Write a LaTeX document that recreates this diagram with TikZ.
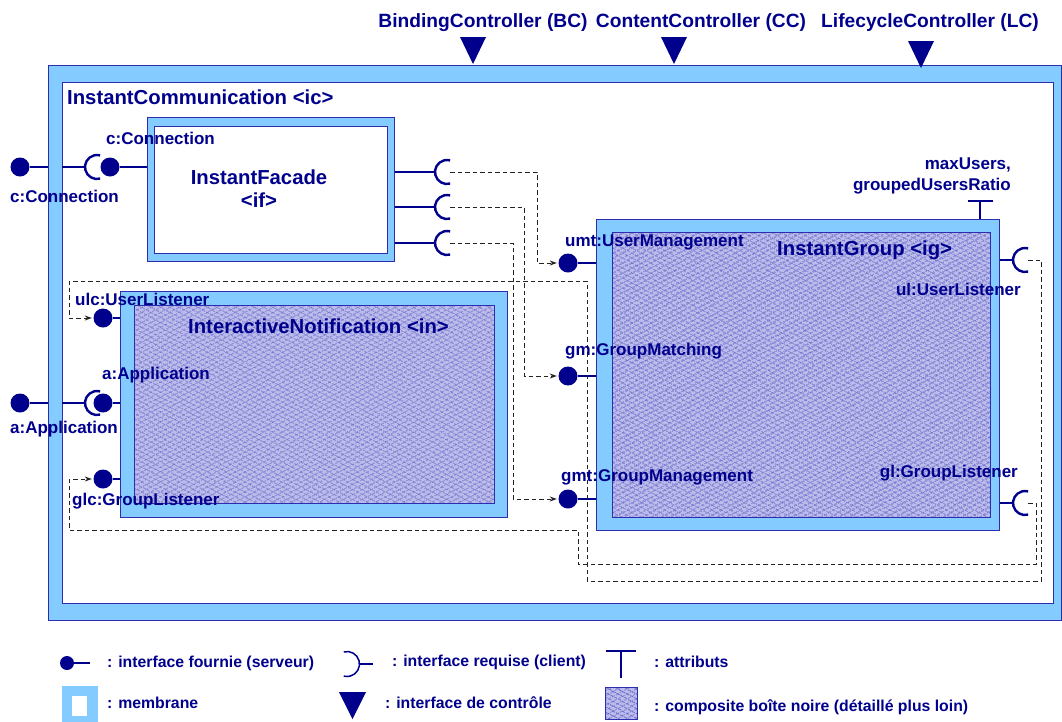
\documentclass[tikz,border=0pt]{standalone}
\usepackage{fontspec}
\setmainfont{Liberation Sans}
\usetikzlibrary{patterns.meta,arrows.meta}
\definecolor{navy}{RGB}{0,0,140}
\definecolor{memb}{RGB}{132,204,255}
\definecolor{membline}{RGB}{45,45,175}
\definecolor{hatchbg}{RGB}{188,188,234}
\definecolor{hatchfg}{RGB}{75,75,195}
\definecolor{wirecol}{RGB}{35,35,35}
\tikzset{
  membrane/.style={rectangle, inner sep=0pt, anchor=north west, fill=memb, draw=membline, line width=1.2pt},
  whitebox/.style={rectangle, inner sep=0pt, anchor=north west, fill=white, draw=membline, line width=1.2pt},
  hatched/.style={rectangle, inner sep=0pt, anchor=north west, draw=membline, line width=1.2pt,
    preaction={fill=hatchbg},
    preaction={pattern={Lines[angle=28,distance=4pt,line width=0.95pt]}, pattern color=hatchfg},
    preaction={pattern={Lines[angle=-28,distance=4pt,line width=0.95pt]}, pattern color=hatchfg}},
  prov/.style={circle, fill=navy, inner sep=0pt, minimum size=19pt},
  conn/.style={draw=navy, line width=2.4pt},
  sockline/.style={draw=navy, line width=2.4pt},
  wire/.style={draw=wirecol, line width=0.9pt, dash pattern=on 4.5pt off 3pt},
  arr/.style={-{Stealth[length=7pt,width=5pt]}, shorten >=1.5pt},
  lbl/.style={inner sep=0pt, text=navy, font=\bfseries\fontsize{17}{21}\selectfont},
  ttl/.style={inner sep=0pt, text=navy, font=\bfseries\fontsize{20.3}{23}\selectfont},
  ctl/.style={inner sep=0pt, text=navy, font=\bfseries\fontsize{19.2}{23}\selectfont},
  leg/.style={inner sep=0pt, text=navy, font=\bfseries\fontsize{15.8}{19}\selectfont, anchor=west},
}
\begin{document}
\begin{tikzpicture}[x=1pt,y=-1pt]
\useasboundingbox (0,0) rectangle (1062,721);
% ---------- outer composite
\node[membrane, minimum width=1013pt, minimum height=555pt] (ic) at (48,65) {};
\node[whitebox, minimum width=991pt, minimum height=521pt] (icin) at (62,82) {};
\node[ttl, anchor=west] (ictitle) at (67,97) {InstantCommunication <ic>};

% ---------- controllers
\node[ctl] (bcl) at (483,23) {BindingController (BC)};
\node[ctl] (ccl) at (701,23) {ContentController (CC)};
\node[ctl] (lcl) at (930,23) {LifecycleController (LC)};
\fill[navy] (460,37) -- (486,37) -- (473,64) -- cycle;
\fill[navy] (661,37) -- (687,37) -- (674,64) -- cycle;
\fill[navy] (908,41) -- (934,41) -- (921,68) -- cycle;

% ---------- InstantFacade
\node[membrane, minimum width=247pt, minimum height=144pt] (ifac) at (147,117) {};
\node[whitebox, minimum width=233pt, minimum height=127pt] (ifacin) at (154,126) {};
\node[ttl, align=center] (iftitle) at (259,189) {InstantFacade\\<if>};

% ---------- InteractiveNotification
\node[membrane, minimum width=387pt, minimum height=226pt] (inot) at (120,291) {};
\node[hatched, minimum width=360pt, minimum height=198pt] (inotin) at (134,305) {};
\node[ttl, anchor=west] (intitle) at (188,326) {InteractiveNotification <in>};

% ---------- InstantGroup
\node[membrane, minimum width=403pt, minimum height=311pt] (ig) at (596,219) {};
\node[hatched, minimum width=378pt, minimum height=285pt] (igin) at (612,232) {};
\node[ttl, anchor=west] (igtitle) at (777,250) {InstantGroup <ig>};

% ---------- c:Connection
\node[prov] (cext) at (20,167) {};
\draw[conn] (cext) -- (ic.west |- cext);
\coordinate (csock) at (97,167);
\draw[conn] (icin.west |- csock) -- ([xshift=-12pt]csock);
\draw[sockline] (csock) ++(75:12) arc[start angle=75,end angle=285,radius=12];
\node[prov] (cint) at (110,167) {};
\draw[conn] (cint) -- (ifac.west |- cint);

% ---------- a:Application
\node[prov] (aext) at (20,403) {};
\draw[conn] (aext) -- (ic.west |- aext);
\coordinate (asock) at (97,403);
\draw[conn] (icin.west |- asock) -- ([xshift=-12pt]asock);
\draw[sockline] (asock) ++(75:12) arc[start angle=75,end angle=285,radius=12];
\node[prov] (aint) at (103,403) {};
\draw[conn] (aint) -- (inot.west |- aint);

% ---------- listeners of InteractiveNotification
\node[prov] (ulc) at (103,318) {};
\draw[conn] (ulc) -- (inot.west |- ulc);
\node[prov] (glc) at (103,479) {};
\draw[conn] (glc) -- (inot.west |- glc);

% ---------- facade client sockets
\foreach \n/\y in {1/172,2/207,3/243}{
  \coordinate (fs\n) at (447,\y);
  \draw[conn] (ifac.east |- fs\n) -- ([xshift=-12pt]fs\n);
  \draw[sockline] (fs\n) ++(75:12) arc[start angle=75,end angle=285,radius=12];
}

% ---------- InstantGroup server interfaces
\node[prov] (umt) at (568,263) {};
\draw[conn] (umt) -- (ig.west |- umt);
\node[prov] (gm) at (568,376) {};
\draw[conn] (gm) -- (ig.west |- gm);
\node[prov] (gmt) at (568,499) {};
\draw[conn] (gmt) -- (ig.west |- gmt);

% ---------- InstantGroup client sockets
\coordinate (gs1) at (1025,260);
\coordinate (gs2) at (1025,503);
\foreach \s in {gs1,gs2}{
  \draw[conn] (ig.east |- \s) -- ([xshift=-12pt]\s);
  \draw[sockline] (\s) ++(75:12) arc[start angle=75,end angle=285,radius=12];
}

% ---------- attributes
\coordinate (attr) at (980,201);
\draw[conn] (ig.north -| attr) -- (attr);
\draw[conn] ([xshift=-12.5pt]attr) -- ([xshift=12.5pt]attr);
\node[lbl, align=right, anchor=east] (attrl) at (1011,176) {maxUsers,\\groupedUsersRatio};

% ---------- bindings (dashed)
\draw[wire,arr] ([xshift=3pt]fs1) -- ++(87,0) |- (umt.west);
\draw[wire,arr] ([xshift=3pt]fs2) -- ++(74,0) |- (gm.west);
\draw[wire,arr] ([xshift=3pt]fs3) -- ++(63,0) |- (gmt.west);
\draw[wire,arr] ([xshift=3pt]gs1) -| (1041,581) -| (587,281) -| (69,318) -- (ulc.west);
\draw[wire,arr] ([xshift=3pt]gs2) -| (1036,564) -| (578,530) -| (69,479) -- (glc.west);

% ---------- interface labels
\node[lbl, anchor=west] (lcext) at (10,196) {c:Connection};
\node[lbl, anchor=west] (lcint) at (106,138) {c:Connection};
\node[lbl, anchor=west] (laext) at (10,429) {a:Application};
\node[lbl, anchor=west] (laint) at (102,375) {a:Application};
\node[lbl, anchor=west] (lulc) at (75,299) {ulc:UserListener};
\node[lbl, anchor=west] (lglc) at (72,501) {glc:GroupListener};
\node[lbl, anchor=west] (lumt) at (565,242) {umt:UserManagement};
\node[lbl, anchor=west] (lgm) at (565,351) {gm:GroupMatching};
\node[lbl, anchor=west] (lgmt) at (561,477) {gmt:GroupManagement};
\node[lbl, anchor=east] (lul) at (1021,289) {ul:UserListener};
\node[lbl, anchor=east] (lgl) at (1018,473) {gl:GroupListener};

% ---------- legend
\node[prov, minimum size=14pt] (lgdot) at (67,663) {};
\coordinate (lgdotend) at (90,663);
\draw[conn, line width=1.6pt] (lgdot) -- (lgdotend);
\node[leg] (lg1) at (107,663) {: interface fournie (serveur)};
\coordinate (lgsock) at (347,664);
\draw[sockline, line width=1.5pt] (lgsock) ++(-105:12.5) arc[start angle=-105,end angle=105,radius=12.5];
\draw[conn, line width=1.5pt] ([xshift=12.5pt]lgsock) -- ++(13,0);
\node[leg] (lg2) at (392,662) {: interface requise (client)};
\coordinate (lgT) at (621,651);
\draw[conn, line width=1.8pt] ([xshift=-15pt]lgT) -- ([xshift=15pt]lgT) (lgT) -- ++(0,27);
\node[leg] (lg3) at (654,662) {: attributs};
\node[membrane, draw=none, minimum width=36pt, minimum height=37pt] (lgmemb) at (61,685) {};
\node[whitebox, draw=none, minimum width=15pt, minimum height=20pt] (lgmembin) at (71,695) {};
\node[leg] (lg4) at (107,703) {: membrane};
\fill[navy] (339,692) -- (366,692) -- (352.5,719) -- cycle;
\node[leg] (lg5) at (385,703) {: interface de contrôle};
\node[hatched, line width=0.6pt, minimum width=32pt, minimum height=32pt] (lghatch) at (605,687) {};
\node[leg] (lg6) at (654,707) {: composite boîte noire (détaillé plus loin)};
\end{tikzpicture}
\end{document}
